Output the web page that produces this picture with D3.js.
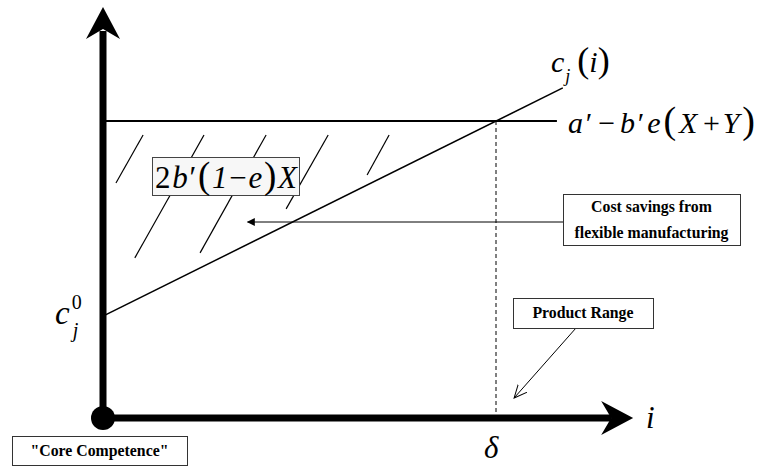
<!DOCTYPE html>
<html>
<head>
<meta charset="utf-8">
<script src="https://cdn.jsdelivr.net/npm/d3@7"></script>
<style>
  body { margin: 0; background: #fff; }
  svg { display: block; }
  text { font-family: "Liberation Serif", "Times New Roman", serif; }
</style>
</head>
<body>
<svg id="chart" width="758" height="466"></svg>
<script>
// diagram units: i goes 0..delta (=1), cost goes 0..ceiling (=1)
const DELTA = 1;
const CEILING = 1;            // a' - b'e(X+Y)
const C0 = 0.343;             // c_j^0, intercept of c_j(i)
const COST_LINE_END = 1.17;   // c_j(i) drawn up to this i
const I_AXIS_MAX = 1.349;
const C_AXIS_MAX = 1.384;

// hatching of the savings area
const hatchTopI = [0.102, 0.257, 0.415, 0.573, 0.728];
const hatchBottomI = [0.033, 0.081, 0.247, 0.466, 0.672];
const hatchBottomC = [0.791, 0.539, 0.556, 0.704, 0.818];
const HATCH_TOP_C = 0.953;

const costSavingsLines = ["Cost savings from", "flexible manufacturing"];
const productRangeLabel = "Product Range";
const coreLabel = "\"Core Competence\"";

const svg = d3.select("#chart");
const x = d3.scaleLinear().domain([0, DELTA]).range([103, 496]);
const y = d3.scaleLinear().domain([0, CEILING]).range([418, 121]);
const costAt = i => C0 + (CEILING - C0) * i / DELTA;

const defs = svg.append("defs");
defs.append("marker")
    .attr("id", "solidHead")
    .attr("viewBox", "0 0 10 10").attr("refX", 9).attr("refY", 5)
    .attr("markerWidth", 11).attr("markerHeight", 8).attr("markerUnits", "userSpaceOnUse")
    .attr("orient", "auto")
    .append("path").attr("d", "M0,0 L10,5 L0,10 Z").attr("fill", "#000");
defs.append("marker")
    .attr("id", "openHead")
    .attr("viewBox", "0 0 14 14").attr("refX", 13).attr("refY", 7)
    .attr("markerWidth", 14).attr("markerHeight", 14).attr("markerUnits", "userSpaceOnUse")
    .attr("orient", "auto")
    .append("path").attr("d", "M0,1 L13,7 L0,13").attr("fill", "none")
    .attr("stroke", "#000").attr("stroke-width", 1);

// hatching
const hatch = svg.append("g").attr("stroke", "#000").attr("stroke-width", 1.2);
hatchTopI.forEach((ti, k) => {
    hatch.append("line")
        .attr("x1", x(ti)).attr("y1", y(HATCH_TOP_C))
        .attr("x2", x(hatchBottomI[k])).attr("y2", y(hatchBottomC[k]));
});

// ceiling a' - b'e(X+Y)
svg.append("line")
    .attr("x1", x(0)).attr("y1", y(CEILING))
    .attr("x2", x(1.155)).attr("y2", y(CEILING))
    .attr("stroke", "#000").attr("stroke-width", 2);

// c_j(i)
svg.append("line")
    .attr("x1", x(0)).attr("y1", y(costAt(0)))
    .attr("x2", x(COST_LINE_END)).attr("y2", y(costAt(COST_LINE_END)))
    .attr("stroke", "#000").attr("stroke-width", 1.5);

// delta dashed drop
svg.append("line")
    .attr("x1", x(DELTA)).attr("y1", y(CEILING))
    .attr("x2", x(DELTA)).attr("y2", y(0))
    .attr("stroke", "#000").attr("stroke-width", 1)
    .attr("stroke-dasharray", "4,3");

// axes
const axes = svg.append("g");
axes.append("line")
    .attr("x1", x(0)).attr("y1", y(0))
    .attr("x2", x(0)).attr("y2", y(C_AXIS_MAX) + 24)
    .attr("stroke", "#000").attr("stroke-width", 7);
axes.append("line")
    .attr("x1", x(0)).attr("y1", y(0))
    .attr("x2", x(I_AXIS_MAX) - 22).attr("y2", y(0))
    .attr("stroke", "#000").attr("stroke-width", 7);
const tipV = [x(0), y(C_AXIS_MAX)];
axes.append("path")
    .attr("d", `M${tipV[0]},${tipV[1]} L${tipV[0] + 17},${tipV[1] + 32} L${tipV[0]},${tipV[1] + 22} L${tipV[0] - 17},${tipV[1] + 32} Z`)
    .attr("fill", "#000");
const tipH = [x(I_AXIS_MAX), y(0)];
axes.append("path")
    .attr("d", `M${tipH[0]},${tipH[1]} L${tipH[0] - 32},${tipH[1] - 17} L${tipH[0] - 22},${tipH[1]} L${tipH[0] - 32},${tipH[1] + 17} Z`)
    .attr("fill", "#000");
axes.append("circle").attr("cx", x(0)).attr("cy", y(0)).attr("r", 12).attr("fill", "#000");

// math labels
function mathText(px, py, parts, len) {
    const t = svg.append("text")
        .attr("x", px).attr("y", py)
        .style("font-family", "Liberation Serif").attr("fill", "#000");
    if (len) t.attr("textLength", len).attr("lengthAdjust", "spacing");
    parts.forEach(p => {
        t.append("tspan")
            .attr("font-size", p.size || 28)
            .attr("font-style", p.it ? "italic" : "normal")
            .attr("dx", p.dx || 0)
            .attr("dy", p.dy || 0)
            .text(p.t);
    });
    return t;
}

// c_j(i)
mathText(551, 72, [
    {t: "c", it: true, size: 30},
    {t: "j", it: true, size: 18, dy: 10, dx: 1},
    {t: "(", size: 36, dy: -10, dx: 7},
    {t: "i", it: true, size: 30},
    {t: ")", size: 36}
]);

// a' - b'e(X+Y)
mathText(568, 133, [
    {t: "a", it: true, size: 30}, {t: "\u2032", size: 30}, {t: "\u2212", size: 30, dx: 3},
    {t: "b", it: true, size: 30, dx: 2}, {t: "\u2032", size: 30}, {t: "e", it: true, size: 30},
    {t: "(", size: 38}, {t: "X", it: true, size: 30}, {t: "+", size: 30, dx: 3},
    {t: "Y", it: true, size: 30}, {t: ")", size: 38}
], 187);

// 2b'(1-e)X in a box
svg.append("rect")
    .attr("x", 152.5).attr("y", 157.5).attr("width", 147).attr("height", 38)
    .attr("fill", "#f7f7f7").attr("stroke", "#444").attr("stroke-width", 1);
mathText(155, 188, [
    {t: "2", size: 31}, {t: "b", it: true, size: 31}, {t: "\u2032", size: 31},
    {t: "(", size: 37}, {t: "1", it: true, size: 31}, {t: "\u2212", size: 31},
    {t: "e", it: true, size: 31}, {t: ")", size: 37},
    {t: "X", it: true, size: 31}
], 142);

// c_j^0
mathText(55, 324, [
    {t: "c", it: true, size: 33},
    {t: "0", size: 20, dy: -15, dx: 2},
    {t: "j", it: true, size: 20, dy: 28, dx: -9}
]);

// axis names
mathText(484, 458, [{t: "\u03b4", it: true, size: 31}]);
mathText(646, 428, [{t: "i", it: true, size: 31}]);

// boxed notes
function noteBox(x0, y0, w, h, lines) {
    svg.append("rect")
        .attr("x", x0 + 0.5).attr("y", y0 + 0.5).attr("width", w).attr("height", h)
        .attr("fill", "#fff").attr("stroke", "#333").attr("stroke-width", 1);
    const t = svg.append("text")
        .style("font-family", "Liberation Serif")
        .attr("font-weight", "bold").attr("font-size", 15.8)
        .attr("text-anchor", "middle").attr("fill", "#000");
    const lh = 26;
    const startY = y0 + h / 2 - (lines.length - 1) * lh / 2 + 5;
    lines.forEach((l, k) => {
        t.append("tspan").attr("x", x0 + w / 2).attr("y", startY + k * lh).text(l);
    });
}

// cost savings note + arrow into the area
svg.append("line")
    .attr("x1", 563).attr("y1", 222).attr("x2", x(0.368)).attr("y2", 222)
    .attr("stroke", "#000").attr("stroke-width", 1)
    .attr("marker-end", "url(#solidHead)");
noteBox(563, 194, 177, 51, costSavingsLines);

// product range note + arrow down to the axis
svg.append("line")
    .attr("x1", 576).attr("y1", 328).attr("x2", x(1.046)).attr("y2", 398)
    .attr("stroke", "#000").attr("stroke-width", 1)
    .attr("marker-end", "url(#openHead)");
noteBox(513, 298, 140, 30, [productRangeLabel]);

noteBox(12, 436, 175, 29, [coreLabel]);
</script>
</body>
</html>
